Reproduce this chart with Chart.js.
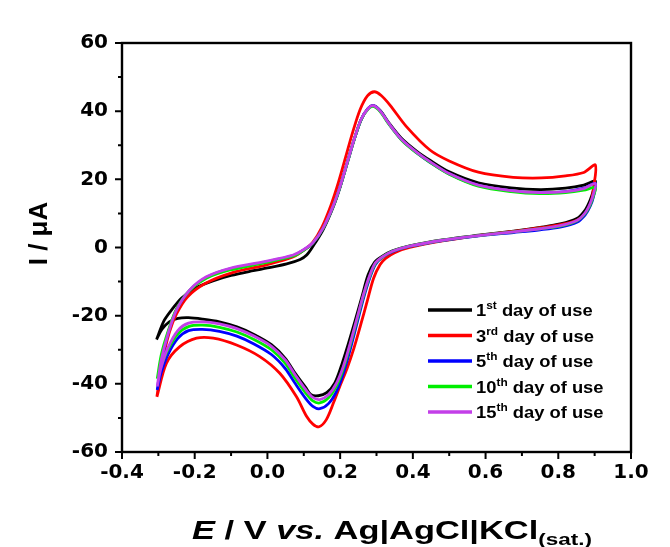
<!DOCTYPE html>
<html>
<head>
<meta charset="utf-8">
<script src="https://cdn.jsdelivr.net/npm/chart.js@4.4.0/dist/chart.umd.min.js"></script>
<style>
  html, body { margin: 0; padding: 0; background: #fff; }
  #cv { display: block; }
</style>
</head>
<body>
<canvas id="cv" width="670" height="547"></canvas>
<script>
// Cyclic voltammograms recorded on different days of electrode use
const dayNumbers = ['1', '3', '5', '10', '15'];
const daySuffixes = ['st', 'rd', 'th', 'th', 'th'];

const potentialRange = [-0.4, 1.0];
const currentRange = [-60, 60];

// day 1
const day1Potential = [
  -0.305, -0.284, -0.260, -0.236, -0.200, -0.150, -0.100, -0.039, 0.000, 0.053, 0.090, 0.108, 0.125,
  0.153, 0.182, 0.201, 0.220, 0.239, 0.258, 0.277, 0.291, 0.310, 0.334, 0.370, 0.410, 0.447, 0.500,
  0.580, 0.670, 0.750, 0.820, 0.870, 0.902,
  0.897, 0.888, 0.874, 0.851, 0.805, 0.750, 0.677, 0.581, 0.486, 0.391, 0.344, 0.315, 0.295, 0.277,
  0.260, 0.242, 0.223, 0.204, 0.185, 0.163, 0.140, 0.120, 0.106, 0.077, 0.049, 0.011, -0.037, -0.084,
  -0.132, -0.179, -0.217, -0.246, -0.270, -0.290, -0.305
];
const day1Current = [
  -27.0, -21.4, -17.8, -14.8, -12.0, -9.8, -8.2, -6.8, -6.0, -4.8, -3.5, -2.2, 0.3,
  5.2, 12.2, 18.1, 25.0, 31.8, 37.6, 40.8, 41.6, 40.2, 36.6, 31.9, 28.3, 25.6, 22.2,
  19.0, 17.5, 17.0, 17.4, 18.3, 19.5,
  17.0, 14.0, 11.0, 8.5, 6.9, 5.9, 4.8, 3.6, 2.3, 0.5, -1.0, -2.6, -4.3, -8.0,
  -14.4, -21.2, -28.1, -34.5, -39.8, -42.6, -43.5, -43.2, -41.2, -37.0, -32.5, -28.5, -25.5, -23.3,
  -21.8, -21.0, -20.6, -20.8, -21.8, -24.0, -27.0
];

// day 3
const day3Potential = [
  -0.304, -0.290, -0.270, -0.250, -0.220, -0.170, -0.100, 0.000, 0.070, 0.100, 0.125, 0.150, 0.175,
  0.195, 0.215, 0.235, 0.255, 0.275, 0.294, 0.313, 0.337, 0.383, 0.447, 0.500, 0.580, 0.676, 0.753,
  0.820, 0.870, 0.902,
  0.897, 0.888, 0.874, 0.851, 0.805, 0.750, 0.677, 0.581, 0.486, 0.391, 0.350, 0.325, 0.310, 0.292,
  0.275, 0.257, 0.238, 0.219, 0.200, 0.182, 0.162, 0.142, 0.125, 0.108, 0.080, 0.034, -0.021, -0.085,
  -0.149, -0.195, -0.241, -0.278, -0.304
];
const day3Current = [
  -43.8, -34.0, -25.0, -19.5, -14.5, -10.5, -7.5, -5.0, -2.8, -0.8, 1.6, 6.0, 12.5,
  19.0, 26.5, 34.0, 40.5, 44.5, 45.7, 44.6, 41.8, 35.4, 28.6, 25.4, 22.1, 20.6, 20.4,
  21.0, 22.0, 24.2,
  17.5, 12.5, 10.0, 8.0, 6.7, 5.8, 4.7, 3.5, 2.0, 0.0, -1.5, -3.2, -5.0, -9.0,
  -15.5, -22.5, -29.5, -35.5, -40.5, -45.5, -50.5, -52.6, -51.8, -49.6, -43.8, -36.9, -32.0, -28.6,
  -26.6, -26.6, -29.1, -34.0, -43.8
];

// days 5, 10 and 15 share one potential sweep
const sweepPotential = [
  -0.303, -0.292, -0.273, -0.250, -0.214, -0.168, -0.103, -0.012, 0.071, 0.100, 0.125, 0.153, 0.182,
  0.201, 0.220, 0.239, 0.258, 0.277, 0.291, 0.310, 0.334, 0.370, 0.410, 0.447, 0.500, 0.580, 0.670,
  0.750, 0.820, 0.870, 0.902,
  0.897, 0.888, 0.874, 0.851, 0.805, 0.750, 0.677, 0.581, 0.486, 0.391, 0.344, 0.315, 0.297, 0.282,
  0.265, 0.247, 0.228, 0.209, 0.190, 0.168, 0.144, 0.125, 0.106, 0.077, 0.049, 0.011, -0.037, -0.084,
  -0.132, -0.179, -0.217, -0.246, -0.274, -0.293, -0.303
];
const day5Current = [
  -41.8, -33.5, -25.0, -18.2, -12.6, -8.8, -6.3, -4.4, -2.4, -0.7, 1.3, 5.6, 12.4,
  18.2, 25.0, 31.8, 37.6, 40.8, 41.6, 40.1, 36.3, 31.5, 27.8, 25.0, 21.6, 18.2, 16.6,
  16.0, 16.4, 17.4, 18.8,
  15.0, 12.2, 9.6, 7.4, 6.0, 5.2, 4.4, 3.4, 2.1, 0.3, -1.2, -3.0, -5.0, -8.8,
  -14.6, -22.0, -29.8, -36.9, -42.2, -45.8, -47.3, -46.6, -44.4, -40.0, -35.5, -31.4, -28.3, -26.0,
  -24.6, -24.0, -24.4, -26.6, -31.5, -37.0, -41.8
];
const day10Current = [
  -38.5, -31.5, -24.5, -18.0, -12.6, -9.0, -6.6, -4.6, -2.5, -0.8, 1.3, 5.6, 12.4,
  18.2, 25.0, 31.8, 37.6, 40.6, 41.4, 39.9, 36.2, 31.4, 27.8, 25.0, 21.5, 18.0, 16.4,
  15.8, 16.1, 16.8, 17.6,
  15.2, 12.6, 10.0, 7.8, 6.3, 5.5, 4.6, 3.5, 2.2, 0.4, -1.1, -2.9, -4.7, -8.3,
  -13.9, -21.0, -28.6, -35.5, -40.6, -44.1, -45.6, -45.0, -42.8, -38.5, -34.0, -30.0, -27.0, -24.8,
  -23.4, -22.8, -23.2, -25.3, -30.0, -35.0, -38.5
];
const day15Current = [
  -40.8, -33.0, -25.2, -18.3, -12.5, -8.6, -6.1, -4.2, -2.2, -0.6, 1.4, 5.7, 12.5,
  18.3, 25.1, 31.9, 37.7, 40.8, 41.6, 40.1, 36.4, 31.6, 28.0, 25.2, 21.7, 18.3, 16.7,
  16.1, 16.4, 17.3, 18.8,
  15.8, 13.0, 10.2, 7.9, 6.4, 5.5, 4.6, 3.5, 2.2, 0.4, -1.1, -2.8, -4.5, -8.0,
  -13.5, -20.5, -28.0, -34.8, -39.8, -43.2, -44.6, -44.0, -41.8, -37.5, -33.0, -29.0, -26.0, -23.8,
  -22.4, -21.8, -22.2, -24.3, -29.5, -35.5, -40.8
];

const sweeps = [
  [day1Potential, day1Current],
  [day3Potential, day3Current],
  [sweepPotential, day5Current],
  [sweepPotential, day10Current],
  [sweepPotential, day15Current]
];
const colors = ['#000000', '#ff0000', '#0000ff', '#00ee00', '#c33fe8'];

const FONT = '"Liberation Sans", Arial, sans-serif';

function toPoints(e, i) {
  return e.map((v, k) => ({ x: v, y: i[k] }));
}

// frame around the plot plus outward major/minor ticks on left and bottom
const axisFrame = {
  id: 'axisFrame',
  afterDraw(chart) {
    const { ctx, chartArea: a, scales } = chart;
    ctx.save();
    ctx.strokeStyle = '#000';
    ctx.lineWidth = 2.4;
    ctx.strokeRect(a.left, a.top, a.right - a.left, a.bottom - a.top);
    ctx.lineWidth = 2;
    ctx.beginPath();
    scales.x.ticks.forEach(t => {
      const px = scales.x.getPixelForValue(t.value);
      const len = t.label !== '' ? 7 : 4;
      ctx.moveTo(px, a.bottom);
      ctx.lineTo(px, a.bottom + len);
    });
    scales.y.ticks.forEach(t => {
      const py = scales.y.getPixelForValue(t.value);
      const len = t.label !== '' ? 7 : 4;
      ctx.moveTo(a.left, py);
      ctx.lineTo(a.left - len, py);
    });
    ctx.stroke();
    ctx.restore();
  }
};

// draws a row of text pieces: [text, font, dy]
function drawPieces(ctx, pieces, x, y, sx) {
  let cx = 0;
  ctx.save();
  ctx.translate(x, y);
  ctx.scale(sx, 1);
  pieces.forEach(([txt, font, dy]) => {
    ctx.font = font;
    ctx.fillText(txt, cx, dy || 0);
    cx += ctx.measureText(txt).width;
  });
  ctx.restore();
  return cx * sx;
}

function piecesWidth(ctx, pieces) {
  let w = 0;
  pieces.forEach(([txt, font]) => { ctx.font = font; w += ctx.measureText(txt).width; });
  return w;
}

const axisTitles = {
  id: 'axisTitles',
  afterDraw(chart) {
    const { ctx, chartArea: a } = chart;
    ctx.save();
    ctx.fillStyle = '#000';
    ctx.textBaseline = 'alphabetic';

    const xPieces = [
      ['E', 'italic bold 26px ' + FONT],
      [' / V ', 'bold 26px ' + FONT],
      ['vs.', 'italic bold 26px ' + FONT],
      [' Ag|AgCl|KCl', 'bold 26px ' + FONT],
      ['(sat.)', 'bold 17px ' + FONT, 6]
    ];
    const natural = piecesWidth(ctx, xPieces);
    const sx = 400 / natural;
    drawPieces(ctx, xPieces, 392 - 200, 539, sx);

    ctx.translate(47, (a.top + a.bottom) / 2 - 14);
    ctx.rotate(-Math.PI / 2);
    ctx.font = 'bold 26px ' + FONT;
    ctx.textAlign = 'center';
    ctx.fillText('I / \u03bcA', 0, 0);
    ctx.restore();
  }
};

const dayLegend = {
  id: 'dayLegend',
  afterDatasetsDraw(chart) {
    const { ctx, chartArea: a } = chart;
    const x0 = a.right - 203;
    const y0 = a.top + 267;
    const gap = 25.5;
    ctx.save();
    chart.data.datasets.forEach((ds, k) => {
      const y = y0 + k * gap;
      ctx.strokeStyle = ds.borderColor;
      ctx.lineWidth = 3.5;
      ctx.beginPath();
      ctx.moveTo(x0, y);
      ctx.lineTo(x0 + 44, y);
      ctx.stroke();
      ctx.fillStyle = '#000';
      drawPieces(ctx, [
        [dayNumbers[k], 'bold 17px ' + FONT],
        [daySuffixes[k], 'bold 11px ' + FONT, -7],
        [' day of use', 'bold 17px ' + FONT]
      ], x0 + 48, y + 6, 1.08);
    });
    ctx.restore();
  }
};

new Chart(document.getElementById('cv'), {
  type: 'scatter',
  data: {
    datasets: sweeps.map(([e, i], k) => ({
      label: dayNumbers[k] + daySuffixes[k] + ' day of use',
      data: toPoints(e, i),
      showLine: true,
      borderColor: colors[k],
      backgroundColor: colors[k],
      borderWidth: 2.8,
      pointRadius: 0,
      tension: 0.3,
      order: 5 - k
    }))
  },
  options: {
    responsive: false,
    animation: false,
    layout: { padding: { top: 43, right: 39, left: 0, bottom: 0 } },
    plugins: { legend: { display: false }, tooltip: { enabled: false } },
    scales: {
      x: {
        type: 'linear',
        min: potentialRange[0],
        max: potentialRange[1],
        afterFit: s => { s.height = 95; },
        border: { display: false },
        grid: { display: false, drawTicks: false },
        ticks: {
          stepSize: 0.1,
          autoSkip: false,
          maxRotation: 0,
          padding: 9,
          color: '#000',
          font: { family: '"DejaVu Sans"', weight: 'bold', size: 20 },
          callback: v => (Math.round(v * 10) % 2 === 0 ? (Math.abs(v) < 1e-9 ? 0 : v).toFixed(1) : '')
        }
      },
      y: {
        type: 'linear',
        min: currentRange[0],
        max: currentRange[1],
        afterFit: s => { s.width = 122; },
        border: { display: false },
        grid: { display: false, drawTicks: false },
        ticks: {
          stepSize: 10,
          autoSkip: false,
          padding: 14,
          color: '#000',
          font: { family: '"DejaVu Sans"', weight: 'bold', size: 20 },
          callback: v => (v % 20 === 0 ? String(v) : '')
        }
      }
    }
  },
  plugins: [axisFrame, axisTitles, dayLegend]
});
</script>
</body>
</html>
